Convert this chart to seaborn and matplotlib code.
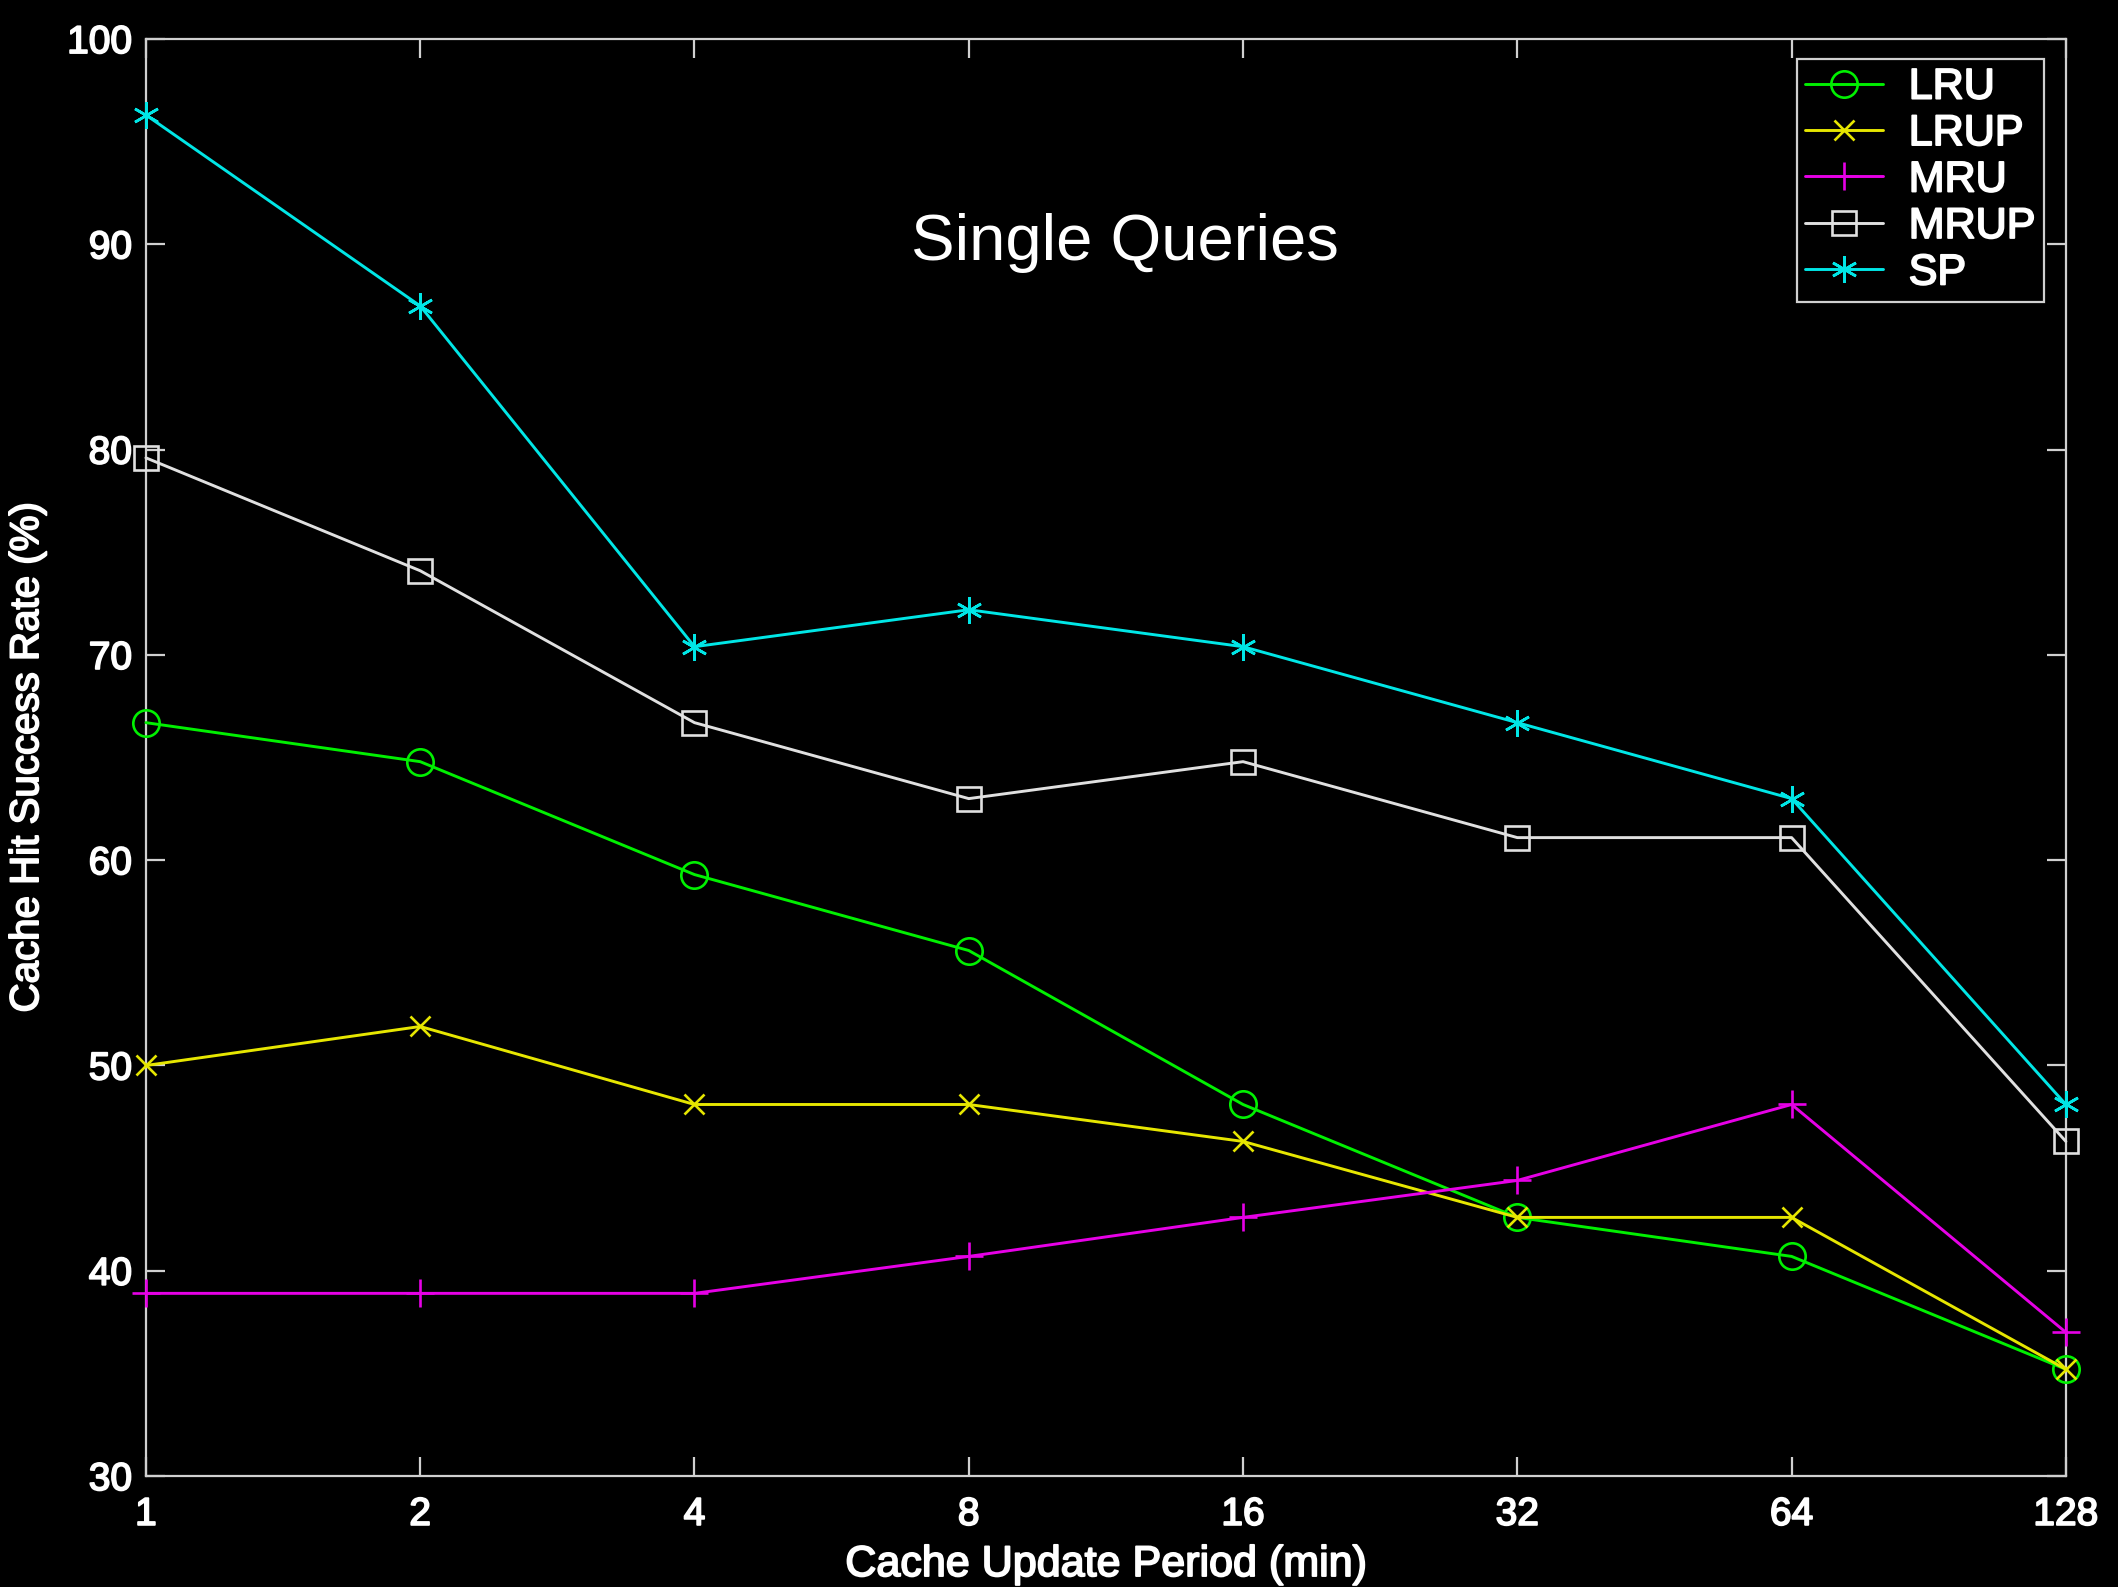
import numpy as np
import pandas as pd
import matplotlib
matplotlib.use('Agg')
import matplotlib.pyplot as plt
import matplotlib.patheffects as pe
import seaborn as sns

# cache update period (min) and hit rates (%) for each policy
periods = [1, 2, 4, 8, 16, 32, 64, 128]
lru = [66.7, 64.8, 59.3, 55.6, 48.1, 42.6, 40.7, 35.2]
lrup = [50.0, 51.9, 48.1, 48.1, 46.3, 42.6, 42.6, 35.2]
mru = [38.9, 38.9, 38.9, 40.7, 42.6, 44.4, 48.1, 37.0]
mrup = [79.6, 74.1, 66.7, 63.0, 64.8, 61.1, 61.1, 46.3]
sp = [96.3, 87.0, 70.4, 72.2, 70.4, 66.7, 63.0, 48.1]

names = ['LRU', 'LRUP', 'MRU', 'MRUP', 'SP']
values = [lru, lrup, mru, mrup, sp]

colors = ['#00f000', '#e6e600', '#e600e6', '#e0e0e0', '#00e6e6']
markers = ['o', 'x', '+', 's', (6, 2, 0)]
msizes = [19, 15, 20, 17, 19]

sns.set_theme(style='dark')
plt.rcParams['font.family'] = ['Liberation Sans', 'DejaVu Sans']

# slightly heavier than regular, like the original raster text
thick = [pe.withStroke(linewidth=1.3, foreground='white')]

fig = plt.figure(figsize=(21.18, 15.87), dpi=100, facecolor='black')
ax = fig.add_axes([0.0689, 0.0699, 0.9065, 0.9055])
ax.set_facecolor('black')

for name, vals, c, m, ms in zip(names, values, colors, markers, msizes):
    d = pd.DataFrame({'period': periods, 'rate': vals})
    sns.lineplot(data=d, x='period', y='rate', ax=ax, color=c, lw=2.1,
                 marker=m, markersize=ms, markerfacecolor='none',
                 markeredgecolor=c, markeredgewidth=1.9, label=name,
                 clip_on=False, zorder=3)

ax.set_xscale('log', base=2)
ax.set_xlim(1, 128)
ax.set_ylim(30, 100)
ax.set_xticks(periods)
ax.set_xticklabels([str(p) for p in periods])
ax.set_yticks(range(30, 101, 10))
ax.minorticks_off()
ax.grid(False)

spine_c = '#d0d0d0'
for s in ax.spines.values():
    s.set_color(spine_c)
    s.set_linewidth(1.6)
    s.set_visible(True)
ax.tick_params(axis='both', which='major', direction='in', length=14, width=1.6,
               color=spine_c, labelcolor='white', labelsize=28,
               top=True, right=True, bottom=True, left=True)
ax.tick_params(axis='x', pad=15)
ax.tick_params(axis='y', pad=10)
for lab in ax.get_xticklabels() + ax.get_yticklabels():
    lab.set_path_effects(thick)

ax.set_xlabel('Cache Update Period (min)', color='white', fontsize=31)
ax.set_ylabel('Cache Hit Success Rate (%)', color='white', fontsize=29)
ax.xaxis.label.set_path_effects(thick)
ax.yaxis.label.set_path_effects(thick)
ax.xaxis.set_label_coords(0.5, -0.048)
ax.yaxis.set_label_coords(-0.052, 0.5)

ax.text(0.51, 0.858, 'Single Queries', transform=ax.transAxes, color='white',
        fontsize=47, ha='center', va='center')

leg = ax.legend(loc='upper right', bbox_to_anchor=(0.9885, 0.9861), borderaxespad=0,
                fontsize=31, frameon=True, fancybox=False,
                framealpha=1, facecolor='black', edgecolor=spine_c, handlelength=1.8,
                handletextpad=0.6, labelspacing=0.15, borderpad=0.2)
leg.get_frame().set_linewidth(1.6)
for t in leg.get_texts():
    t.set_color('white')
    t.set_path_effects(thick)

fig.savefig('out.png', dpi=100, facecolor='black')
